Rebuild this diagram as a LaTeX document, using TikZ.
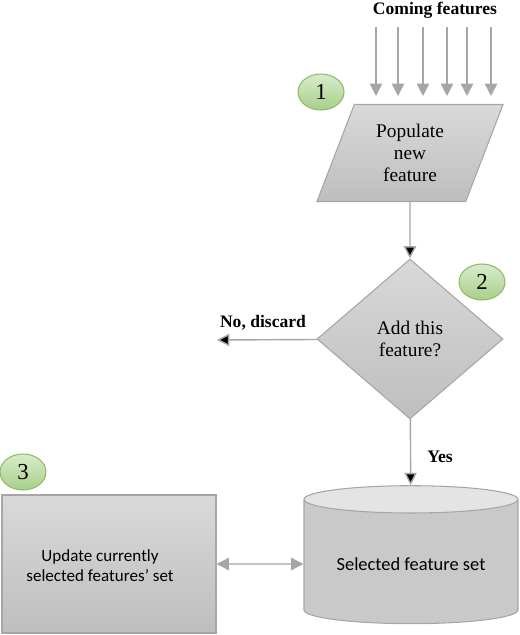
\documentclass[tikz,border=0pt]{standalone}
\usepackage{fontspec}
\setmainfont{Liberation Serif}
\setsansfont{Carlito}
\usetikzlibrary{shapes.geometric,arrows.meta}
\definecolor{edgegray}{HTML}{A6A6A6}
\definecolor{boxtop}{HTML}{D9D9D9}
\definecolor{boxbot}{HTML}{BEBEBE}
\definecolor{lidgray}{HTML}{E4E4E4}
\definecolor{badgetop}{HTML}{D9EBCB}
\definecolor{badgebot}{HTML}{A7CF8A}
\definecolor{badgeline}{HTML}{8DBB6B}
\begin{document}
\begin{tikzpicture}[x=0.02cm, y=-0.02cm,
        >={Triangle[length=7pt,width=7pt]},
        flow/.style={draw=edgegray, line width=0.8pt},
        shaded/.style={draw=edgegray, line width=0.6pt, top color=boxtop, bottom color=boxbot},
        badge/.style={ellipse, draw=badgeline, line width=0.6pt, top color=badgetop, bottom color=badgebot,
            minimum width=0.92cm, minimum height=0.72cm, inner sep=0pt, font=\fontsize{13}{15}\selectfont},
        serif/.style={font=\fontsize{11}{12.5}\selectfont},
        lbl/.style={font=\bfseries\fontsize{10}{12}\selectfont}]
    \useasboundingbox (0,0) rectangle (520,635);

    \node[lbl] at (435,10) (coming) {Coming features};
    \node[trapezium, trapezium left angle=69, trapezium right angle=111, trapezium stretches=true,
        shaded, minimum width=3.74cm, minimum height=1.94cm, align=center, serif]
        at (410,153) (pop) {Populate\\new\\feature};
    \node[diamond, shaded, minimum width=3.72cm, minimum height=3.2cm, align=center, serif]
        at (410,339) (add) {Add this\\feature?};
    \node[cylinder, shape border rotate=90, aspect=0.17, draw=edgegray, line width=0.6pt,
        cylinder uses custom fill, cylinder body fill=boxbot!60!boxtop, cylinder end fill=lidgray,
        minimum width=4.28cm, minimum height=2.76cm, font=\sffamily\fontsize{10.5}{12.5}\selectfont]
        at (411,564) (set) {Selected feature set};
    \node[rectangle, shaded, minimum width=4.28cm, minimum height=2.76cm] at (109,564) (upd) {};
    \node[align=center, font=\sffamily\fontsize{9.7}{11.5}\selectfont] at (100,566) (updtext)
        {Update currently\\selected features’ set};

    \node[badge] at (321,92) (one) {1};
    \node[badge] at (482,282) (two) {2};
    \node[badge] at (23,472) (three) {3};

    \node[lbl] at (263,323) (no) {No, discard};
    \node[lbl] at (440,457) (yes) {Yes};

    % incoming features
    \foreach \x [count=\i] in {376,398,423,447,467,491} {
        \coordinate (in\i) at (\x,27);
        \coordinate (out\i) at (\x,96);
        \draw[flow,->] (in\i) -- (out\i);
    }
    \coordinate (discard) at (217,340);

    \path[flow,->]
        (pop) edge (add)
        (add) edge (discard)
        (add) edge (set);
    \draw[flow,<->] (upd) -- (set);
\end{tikzpicture}
\end{document}
